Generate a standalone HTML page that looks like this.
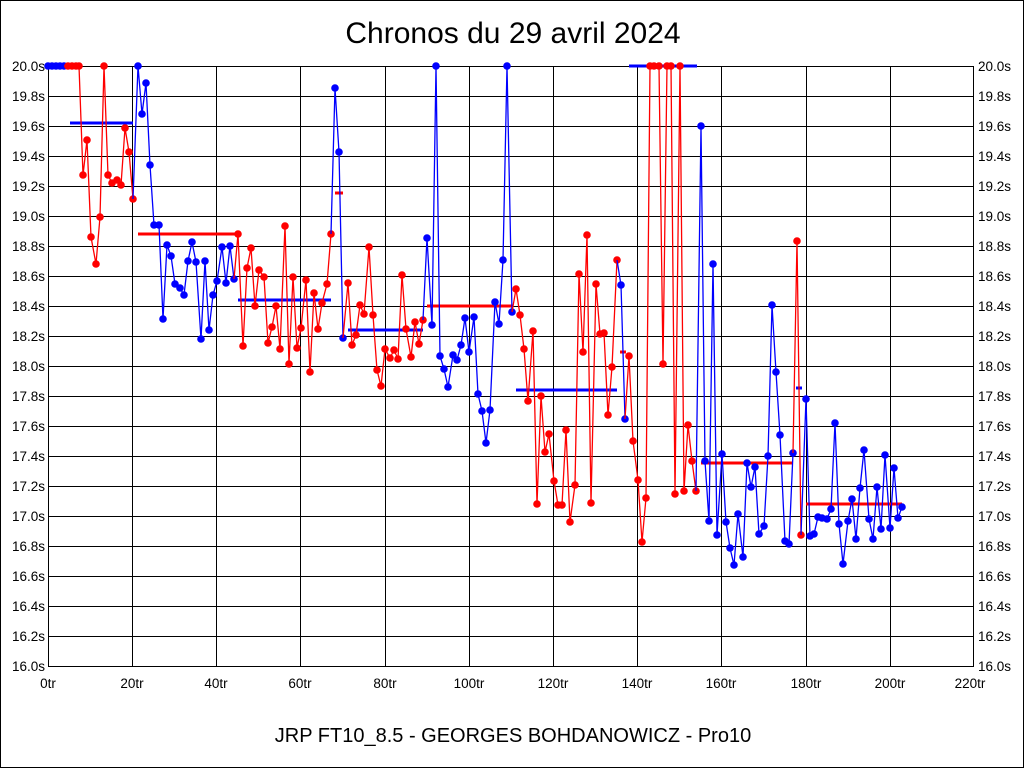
<!DOCTYPE html>
<html><head><meta charset="utf-8"><style>
html,body{margin:0;padding:0;background:#fff}
svg{display:block}
text{font-family:"Liberation Sans",sans-serif}
</style></head><body>
<svg width="1024" height="768" viewBox="0 0 1024 768" xmlns="http://www.w3.org/2000/svg">
<defs>
<marker id="mb" markerUnits="userSpaceOnUse" markerWidth="10" markerHeight="10" refX="5" refY="5"><circle cx="5" cy="5" r="3.8" fill="#0000ff"/></marker>
<marker id="mr" markerUnits="userSpaceOnUse" markerWidth="10" markerHeight="10" refX="5" refY="5"><circle cx="5" cy="5" r="3.8" fill="#ff0000"/></marker>
</defs>
<rect x="0.5" y="0.5" width="1023" height="767" fill="#fff" stroke="#000"/>
<text x="513" y="43" font-size="30" text-anchor="middle">Chronos du 29 avril 2024</text>
<text x="513" y="742" font-size="20" text-anchor="middle">JRP FT10_8.5 - GEORGES BOHDANOWICZ - Pro10</text>
<g stroke="#000" stroke-width="1">
<path d="M48 96.5H974M48 126.5H974M48 156.5H974M48 186.5H974M48 216.5H974M48 246.5H974M48 276.5H974M48 306.5H974M48 336.5H974M48 366.5H974M48 396.5H974M48 426.5H974M48 456.5H974M48 486.5H974M48 516.5H974M48 546.5H974M48 576.5H974M48 606.5H974M48 636.5H974"/>
<path d="M132.5 66V666M216.5 66V666M300.5 66V666M385.5 66V666M469.5 66V666M553.5 66V666M637.5 66V666M721.5 66V666M806.5 66V666M890.5 66V666"/>
<rect x="48.5" y="66.5" width="925" height="600" fill="none"/>
</g>
<g font-size="13.5" text-anchor="end">
<text x="45" y="71">20.0s</text><text x="45" y="101">19.8s</text><text x="45" y="131">19.6s</text><text x="45" y="161">19.4s</text><text x="45" y="191">19.2s</text><text x="45" y="221">19.0s</text><text x="45" y="251">18.8s</text><text x="45" y="281">18.6s</text><text x="45" y="311">18.4s</text><text x="45" y="341">18.2s</text><text x="45" y="371">18.0s</text><text x="45" y="401">17.8s</text><text x="45" y="431">17.6s</text><text x="45" y="461">17.4s</text><text x="45" y="491">17.2s</text><text x="45" y="521">17.0s</text><text x="45" y="551">16.8s</text><text x="45" y="581">16.6s</text><text x="45" y="611">16.4s</text><text x="45" y="641">16.2s</text><text x="45" y="671">16.0s</text>
</g>
<g font-size="13.5">
<text x="978" y="71">20.0s</text><text x="978" y="101">19.8s</text><text x="978" y="131">19.6s</text><text x="978" y="161">19.4s</text><text x="978" y="191">19.2s</text><text x="978" y="221">19.0s</text><text x="978" y="251">18.8s</text><text x="978" y="281">18.6s</text><text x="978" y="311">18.4s</text><text x="978" y="341">18.2s</text><text x="978" y="371">18.0s</text><text x="978" y="401">17.8s</text><text x="978" y="431">17.6s</text><text x="978" y="461">17.4s</text><text x="978" y="491">17.2s</text><text x="978" y="521">17.0s</text><text x="978" y="551">16.8s</text><text x="978" y="581">16.6s</text><text x="978" y="611">16.4s</text><text x="978" y="641">16.2s</text><text x="978" y="671">16.0s</text>
</g>
<g font-size="13.5" text-anchor="middle">
<text x="48" y="688">0tr</text><text x="132" y="688">20tr</text><text x="216" y="688">40tr</text><text x="300" y="688">60tr</text><text x="385" y="688">80tr</text><text x="469" y="688">100tr</text><text x="553" y="688">120tr</text><text x="637" y="688">140tr</text><text x="721" y="688">160tr</text><text x="806" y="688">180tr</text><text x="890" y="688">200tr</text><text x="970" y="688">220tr</text>
</g>
<g stroke-width="3">
<path stroke="#0000ff" d="M70 123H133M238 300H331M348 330H423M516 390H617M629 66H697"/>
<path stroke="#ff0000" d="M138 234H238M427 306H512M701 463H793M806 504H902"/>
<path stroke="#ff0000" d="M335 193H343M620 352H626"/>
<path stroke="#0000ff" d="M796 388H802"/>
</g>
<g fill="none" stroke-width="1.3">
<polyline stroke="#0000ff" marker-start="url(#mb)" marker-mid="url(#mb)" marker-end="url(#mb)" points="48,66 52,66 56,66 60,66 64,66"/>
<polyline stroke="#ff0000" marker-mid="url(#mr)" marker-end="url(#mr)" points="64,66 68,66 72,66 76,66 79,66 83,175 87,140 91,237 96,264 100,217 104,66 108,175 112,183 117,180 121,185 125,128 129,152 133,199"/>
<polyline stroke="#0000ff" marker-mid="url(#mb)" marker-end="url(#mb)" points="133,199 138,66 142,114 146,83 150,165 154,225 159,225 163,319 167,245 171,256 175,284 180,288 184,295 188,261 192,242 196,262 201,339 205,261 209,330 213,295 217,281 222,247 226,283 230,246 234,279"/>
<polyline stroke="#ff0000" marker-mid="url(#mr)" marker-end="url(#mr)" points="234,279 238,234 243,346 247,268 251,248 255,306 259,270 264,277 268,343 272,327 276,306 280,349 285,226 289,364 293,277 297,348 301,328 306,280 310,372 314,293 318,329 322,303 327,284 331,234"/>
<polyline stroke="#0000ff" marker-mid="url(#mb)" marker-end="url(#mb)" points="331,234 335,88 339,152 343,338"/>
<polyline stroke="#ff0000" marker-mid="url(#mr)" marker-end="url(#mr)" points="343,338 348,283 352,345 356,335 360,305 364,314 369,247 373,315 377,370 381,386 385,349 390,358 394,350 398,359 402,275 406,329 411,357 415,322 419,344 423,320"/>
<polyline stroke="#0000ff" marker-mid="url(#mb)" marker-end="url(#mb)" points="423,320 427,238 432,325 436,66 440,356 444,369 448,387 453,355 457,360 461,345 465,318 469,352 474,317 478,394 482,411 486,443 490,410 495,302 499,324 503,260 507,66 512,312"/>
<polyline stroke="#ff0000" marker-mid="url(#mr)" marker-end="url(#mr)" points="512,312 516,289 520,315 524,349 528,401 533,331 537,504 541,396 545,452 549,434 554,481 558,505 562,505 566,430 570,522 575,485 579,274 583,352 587,235 591,503 596,284 600,334 604,333 608,415 612,367 617,260"/>
<polyline stroke="#0000ff" marker-mid="url(#mb)" marker-end="url(#mb)" points="617,260 621,285 625,419"/>
<polyline stroke="#ff0000" marker-mid="url(#mr)" marker-end="url(#mr)" points="625,419 629,356 633,441 638,480 642,542 646,498 650,66 654,66 659,66 663,364 667,66 671,66 675,494 680,66 684,491 688,425 692,461 696,491"/>
<polyline stroke="#0000ff" marker-mid="url(#mb)" marker-end="url(#mb)" points="696,491 701,126 705,461 709,521 713,264 717,535 722,454 726,522 730,548 734,565 738,514 743,557 747,463 751,487 755,467 759,534 764,526 768,456 772,305 776,372 780,435 785,541 789,544 793,453"/>
<polyline stroke="#ff0000" marker-mid="url(#mr)" marker-end="url(#mr)" points="793,453 797,241 801,535"/>
<polyline stroke="#0000ff" marker-mid="url(#mb)" marker-end="url(#mb)" points="801,535 806,399 810,536 814,534 818,517 822,518 827,519 831,509 835,423 839,524 843,564 848,521 852,499 856,539 860,488 864,450 869,519 873,539 877,487 881,529 885,455 890,528 894,468 898,518 902,507"/>
</g>
</svg>
</body></html>
